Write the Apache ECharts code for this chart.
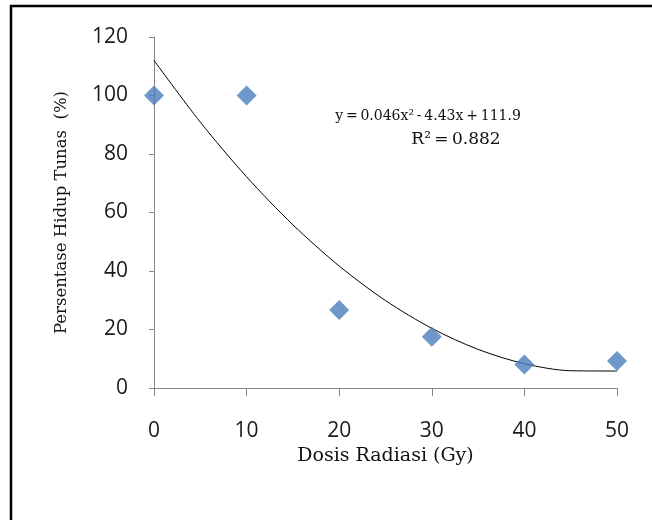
<!DOCTYPE html>
<html><head><meta charset="utf-8">
<script src="https://cdn.jsdelivr.net/npm/echarts@6/dist/echarts.min.js"></script>
<style>html,body{margin:0;padding:0;background:#fff}#c{width:652px;height:520px}</style>
</head><body><div id="c"></div>
<script>
// Observed data (dose Gy, survival %)
const doses = [0, 10, 20, 30, 40, 50];
const survival = [100, 100, 26.7, 17.5, 8, 9.2];
// Trendline
const trendX = [0, 5, 10, 15, 20, 25, 30, 35, 40, 45, 50];
const trendY = [112, 90.9, 72.2, 55.8, 41.7, 29.9, 20.4, 13.2, 8.3, 5.9, 5.8];
const xTicks = [0, 10, 20, 30, 40, 50];
const yTicks = [0, 20, 40, 60, 80, 100, 120];
const equationText = 'y\u2009=\u20090.046x\u00b2\u2009-\u20094.43x\u2009+\u2009111.9';
const r2Text = 'R\u00b2\u2009=\u20090.882';

const chart = echarts.init(document.getElementById('c'));
const axisCol = '#868686';
const serif = 'DejaVu Serif';
const labelFont = {fontFamily: 'Open Sans', fontSize: 21, color: '#1a1a1a'};
chart.setOption({
  animation: false,
  backgroundColor: '#fff',
  grid: {left: 154, right: 35, top: 37, bottom: 132},
  xAxis: {
    type: 'value', min: xTicks[0], max: xTicks[xTicks.length - 1], interval: 10,
    name: 'Dosis Radiasi (Gy)', nameLocation: 'middle', nameGap: 59,
    nameTextStyle: {fontFamily: serif, fontSize: 19, color: '#111'},
    axisLine: {lineStyle: {color: axisCol}},
    axisTick: {show: true, length: 8, lineStyle: {color: axisCol}},
    axisLabel: Object.assign({margin: 33}, labelFont),
    splitLine: {show: false}
  },
  yAxis: {
    type: 'value', min: yTicks[0], max: yTicks[yTicks.length - 1], interval: 20,
    name: 'Persentase Hidup Tunas  (%)', nameLocation: 'middle', nameGap: 84, nameRotate: 90,
    nameTextStyle: {fontFamily: serif, fontSize: 16.5, color: '#111'},
    axisLine: {show: true, lineStyle: {color: axisCol}},
    axisTick: {show: true, length: 5, lineStyle: {color: axisCol}},
    axisLabel: Object.assign({margin: 26}, labelFont),
    splitLine: {show: false}
  },
  series: [
    {
      type: 'line', data: trendX.map((x, i) => [x, trendY[i]]), smooth: 0.3,
      showSymbol: false, symbol: 'none', lineStyle: {color: '#000', width: 1}, z: 2
    },
    {
      type: 'scatter', data: doses.map((x, i) => [x, survival[i]]),
      symbol: 'diamond', symbolSize: 20, itemStyle: {color: '#4A7EBB'}, z: 3
    }
  ],
  graphic: [
    {type: 'rect', shape: {x: 11, y: 6, width: 700, height: 600}, style: {fill: 'none', stroke: '#000', lineWidth: 2.5}, silent: true},
    {type: 'text', style: {text: equationText, x: 428, y: 116, textAlign: 'center', textVerticalAlign: 'middle', font: '14px "DejaVu Serif"', fill: '#111'}},
    {type: 'text', style: {text: r2Text, x: 456, y: 140, textAlign: 'center', textVerticalAlign: 'middle', font: '17px "DejaVu Serif"', fill: '#111'}}
  ]
});
</script></body></html>
